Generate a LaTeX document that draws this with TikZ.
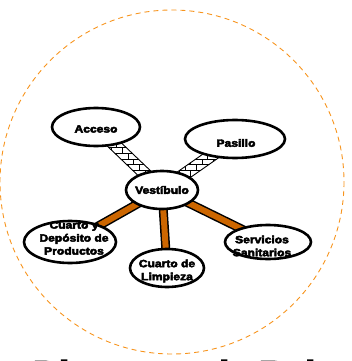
\documentclass[tikz,border=0pt]{standalone}
\usepackage{fontspec}
\setmainfont{Liberation Sans}
\newfontfamily\heavyfont[FakeBold=4]{Liberation Sans Bold}
\usetikzlibrary{calc,patterns,backgrounds,shapes.geometric}
\definecolor{dashorange}{HTML}{F7941D}
\definecolor{linkorange}{HTML}{CC6600}
\tikzset{
  room/.style={ellipse, draw=black, line width=2.6pt, fill=white, inner sep=0pt},
  roomtext/.style={inner sep=0pt, align=center, xscale=1.15, transform shape,
    font=\heavyfont\fontsize{10.5}{13}\selectfont},
  hatchlink/.style={draw=black, line width=0.9pt, fill=white},
  hatchfill/.style={pattern=bricks, pattern color=black},
  orangeborder/.style={draw=black, line width=9pt},
  orangecore/.style={draw=linkorange, line width=6pt},
}
\begin{document}
\begin{tikzpicture}[x=1pt,y=-1pt]
\useasboundingbox (0,0) rectangle (351,361);
\draw[dashorange, line width=0.9pt, dash pattern=on 5pt off 4pt] (172,182) circle (172);
\node[room, minimum width=88pt, minimum height=38pt] (acc) at (96,127) {};
\node[room, minimum width=100pt, minimum height=38pt] (pas) at (235,139) {};
\node[room, minimum width=72pt, minimum height=38pt] (ves) at (162,190) {};
\node[room, minimum width=92pt, minimum height=42pt] (dep) at (70,242) {};
\node[room, minimum width=74pt, minimum height=38pt] (lim) at (167,268) {};
\node[room, minimum width=86pt, minimum height=34pt] (san) at (268,242) {};
\node[roomtext] (acc-t) at (96,129) {Acceso};
\node[roomtext] (pas-t) at (236,143) {Pasillo};
\node[roomtext] (ves-t) at (162,190) {Vestíbulo};
\node[roomtext] (dep-t) at (74,238) {Cuarto y\\Depósito de\\Productos};
\node[roomtext] (lim-t) at (167,271) {Cuarto de\\Limpieza};
\node[roomtext] (san-t) at (262,246) {Servicios\\Sanitarios};
\begin{scope}[on background layer]
  \foreach \t in {acc,pas}{
    \path[hatchlink] ($(ves.center)!6pt!90:(\t.center)$) -- ($(\t.center)!6pt!-90:(ves.center)$)
      -- ($(\t.center)!6pt!90:(ves.center)$) -- ($(ves.center)!6pt!-90:(\t.center)$) -- cycle;
    \path[hatchfill] ($(ves.center)!6pt!90:(\t.center)$) -- ($(\t.center)!6pt!-90:(ves.center)$)
      -- ($(\t.center)!6pt!90:(ves.center)$) -- ($(ves.center)!6pt!-90:(\t.center)$) -- cycle;
  }
  \foreach \t in {dep,lim,san}{
    \draw[orangeborder] (ves.center) -- (\t.center);
    \draw[orangecore] (ves.center) -- (\t.center);
  }
\end{scope}
\node[anchor=north west, inner sep=0pt, font=\heavyfont\fontsize{36}{36}\selectfont] (title) at (33,359.5) {Diagrama de Relación};
\end{tikzpicture}
\end{document}
